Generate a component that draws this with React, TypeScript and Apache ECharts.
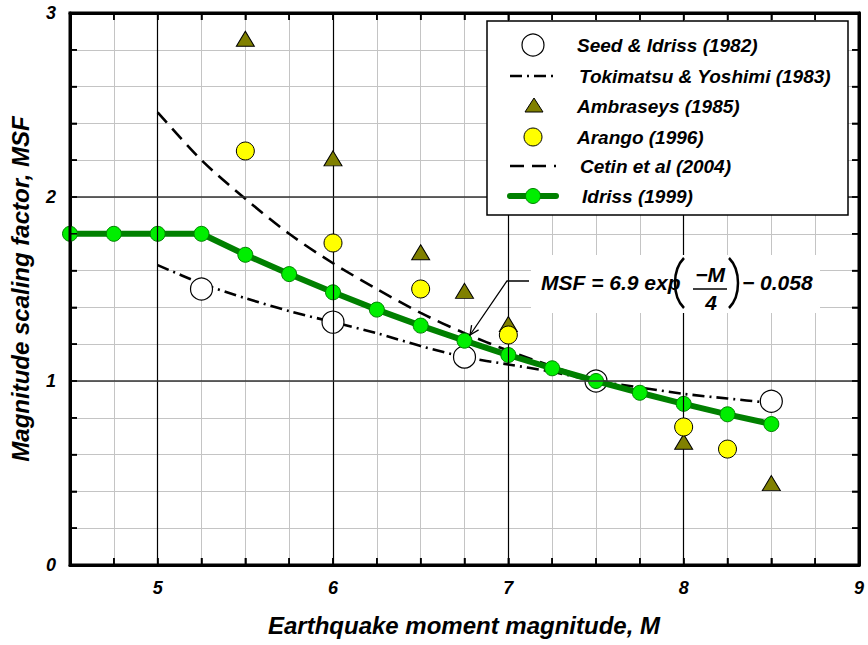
import React, { useEffect, useRef } from "react";
import * as echarts from "echarts";

// ---- data ----
const idrissM = [4.5, 4.75, 5, 5.25, 5.5, 5.75, 6, 6.25, 6.5, 6.75, 7, 7.25, 7.5, 7.75, 8, 8.25, 8.5];
const idrissMSF = [1.8, 1.8, 1.8, 1.8, 1.686, 1.581, 1.482, 1.388, 1.301, 1.219, 1.141, 1.069, 1.0, 0.936, 0.876, 0.819, 0.766];

const seedM = [5.25, 6, 6.75, 7.5, 8.5];
const seedMSF = [1.5, 1.32, 1.13, 1.0, 0.89];

const tokiM = [5, 5.25, 5.5, 5.75, 6, 6.25, 6.5, 6.75, 7, 7.25, 7.5, 7.75, 8, 8.25, 8.5];
const tokiMSF = [1.63, 1.53, 1.45, 1.38, 1.32, 1.26, 1.19, 1.13, 1.09, 1.05, 1.0, 0.965, 0.93, 0.905, 0.88];

const ambM = [5.5, 6, 6.5, 6.75, 7, 8, 8.5];
const ambMSF = [2.86, 2.21, 1.7, 1.49, 1.31, 0.67, 0.445];

const arangoM = [5.5, 6, 6.5, 7, 8, 8.25];
const arangoMSF = [2.25, 1.75, 1.5, 1.25, 0.75, 0.63];

const cetinM = [5, 5.25, 5.5, 5.75, 6, 6.25, 6.5, 6.75, 7, 7.25, 7.5];
const cetinMSF = [2.46, 2.2, 1.99, 1.8, 1.64, 1.5, 1.37, 1.26, 1.165, 1.08, 1.0];

// ---- axes / ticks ----
const xRange = [4.5, 9];
const yRange = [0, 3];
const xTickLabels = [5, 6, 7, 8, 9];
const yTickLabels = [0, 1, 2, 3];
const xMinorTicks = [4.75, 5, 5.25, 5.5, 5.75, 6, 6.25, 6.5, 6.75, 7, 7.25, 7.5, 7.75, 8, 8.25, 8.5, 8.75];
const yMinorTicks = [0.2, 0.4, 0.6, 0.8, 1, 1.2, 1.4, 1.6, 1.8, 2, 2.2, 2.4, 2.6, 2.8];
const majorX = [5, 6, 7, 8];
const majorY = [1, 2];

const legendNames = [
  "Seed & Idriss (1982)",
  "Tokimatsu & Yoshimi (1983)",
  "Ambraseys (1985)",
  "Arango (1996)",
  "Cetin et al (2004)",
  "Idriss (1999)",
];

const xTitle = "Earthquake moment magnitude, M";
const yTitle = "Magnitude scaling factor, MSF";

const FONT = '"Liberation Sans", Arial, sans-serif';

const zip = (a: number[], b: number[]) => a.map((v, i) => [v, b[i]]);

function makeAxis(kind: "x" | "y", position: string, main: boolean) {
  const isX = kind === "x";
  return {
    type: "value",
    min: isX ? xRange[0] : yRange[0],
    max: isX ? xRange[1] : yRange[1],
    interval: isX ? 0.25 : 0.2,
    position,
    axisLine: { show: true, onZero: false, lineStyle: { color: "#000", width: 3 } },
    axisTick: { show: true, inside: true, length: 7, lineStyle: { color: "#000", width: 1.5 } },
    axisLabel: main
      ? {
          show: true,
          customValues: isX ? xTickLabels : yTickLabels,
          fontFamily: FONT,
          fontWeight: "bold",
          fontStyle: "italic",
          fontSize: 18,
          color: "#000",
          margin: 14,
        }
      : { show: false },
    splitLine: main
      ? { show: true, lineStyle: { color: "#c4c4c4", width: 1 } }
      : { show: false },
  };
}

export default function App() {
  const ref = useRef<HTMLDivElement>(null);

  useEffect(() => {
    if (!ref.current) return;
    const chart = echarts.init(ref.current, undefined, { renderer: "svg" });

    const txt = (text: string, x: number, y: number, size: number, extra: any = {}) => ({
      type: "text",
      x,
      y,
      z: 100,
      silent: true,
      ...extra,
      style: {
        text,
        fill: "#000",
        fontFamily: FONT,
        fontWeight: "bold",
        fontStyle: "italic",
        fontSize: size,
        align: "left",
        verticalAlign: "middle",
        ...(extra.style || {}),
      },
    });

    const legendTextX = [577, 579, 577, 577, 580, 582];
    const legendRowY = [45, 76, 106, 137, 166, 196];

    const graphic: any[] = [
      // legend box
      {
        type: "rect",
        z: 99,
        shape: { x: 487, y: 21, width: 361, height: 194 },
        style: { fill: "#fff", stroke: "#000", lineWidth: 1.5 },
      },
      { type: "circle", z: 100, shape: { cx: 533, cy: legendRowY[0], r: 11 }, style: { fill: "#fff", stroke: "#000", lineWidth: 1.2 } },
      { type: "line", z: 100, shape: { x1: 510, y1: legendRowY[1], x2: 556, y2: legendRowY[1] }, style: { stroke: "#000", lineWidth: 2.6, lineDash: [12, 5, 2, 5] } },
      { type: "polygon", z: 100, shape: { points: [[534, 98], [543, 112], [525, 112]] }, style: { fill: "#808000", stroke: "#000", lineWidth: 1 } },
      { type: "circle", z: 100, shape: { cx: 533, cy: legendRowY[3], r: 9 }, style: { fill: "#ffff00", stroke: "#000", lineWidth: 1 } },
      { type: "line", z: 100, shape: { x1: 510, y1: legendRowY[4], x2: 556, y2: legendRowY[4] }, style: { stroke: "#000", lineWidth: 2.6, lineDash: [14, 8] } },
      { type: "line", z: 100, shape: { x1: 510, y1: legendRowY[5], x2: 556, y2: legendRowY[5] }, style: { stroke: "#008000", lineWidth: 6, lineCap: "round" } },
      { type: "circle", z: 101, shape: { cx: 533, cy: legendRowY[5], r: 7.5 }, style: { fill: "#00ee00", stroke: "#008000", lineWidth: 1 } },
      ...legendNames.map((n, i) => txt(n, legendTextX[i], legendRowY[i], 19)),

      // equation annotation
      {
        type: "rect",
        z: 98,
        shape: { x: 531, y: 255, width: 289, height: 58 },
        style: { fill: "#fff" },
      },
      {
        type: "polyline",
        z: 100,
        shape: { points: [[529, 281], [507, 281], [470, 335]] },
        style: { stroke: "#000", lineWidth: 1.3, fill: null },
      },
      {
        type: "polyline",
        z: 100,
        shape: { points: [[478.6, 329.9], [470, 335], [471.6, 325.1]] },
        style: { stroke: "#000", lineWidth: 1.3, fill: null },
      },
      txt("MSF = 6.9 exp", 541, 282, 21),
      {
        type: "bezierCurve",
        z: 100,
        shape: { x1: 684, y1: 258, cpx1: 672, cpy1: 270, cpx2: 672, cpy2: 296, x2: 684, y2: 308 },
        style: { stroke: "#000", lineWidth: 2.5, fill: null },
      },
      {
        type: "bezierCurve",
        z: 100,
        shape: { x1: 729, y1: 258, cpx1: 741, cpy1: 270, cpx2: 741, cpy2: 296, x2: 729, y2: 308 },
        style: { stroke: "#000", lineWidth: 2.5, fill: null },
      },
      txt("\u2212M", 710, 274, 21, { style: { align: "center" } }),
      { type: "line", z: 100, shape: { x1: 693, y1: 289, x2: 727, y2: 289 }, style: { stroke: "#000", lineWidth: 1.5 } },
      txt("4", 711, 302, 21, { style: { align: "center" } }),
      txt("\u2212 0.058", 742, 282, 21),

      // axis titles
      txt(xTitle, 464, 625, 24, { style: { align: "center" } }),
      txt(yTitle, 20, 289, 24, { rotation: Math.PI / 2, style: { align: "center" } }),
    ];

    const option: any = {
      animation: false,
      backgroundColor: "#fff",
      grid: { left: 70, right: 9, top: 13, bottom: 80 },
      xAxis: [makeAxis("x", "bottom", true), makeAxis("x", "top", false)],
      yAxis: [makeAxis("y", "left", true), makeAxis("y", "right", false)],
      series: [
        {
          name: "major",
          type: "line",
          data: [],
          z: 1,
          silent: true,
          markLine: {
            silent: true,
            symbol: "none",
            label: { show: false },
            animation: false,
            data: [
              ...majorX.map((v) => ({ xAxis: v, lineStyle: { color: "#000", width: 1.2, type: "solid" } })),
              ...majorY.map((v) => ({ yAxis: v, lineStyle: { color: "#333", width: 1.5, type: "solid" } })),
            ],
          },
        },
        {
          name: legendNames[1],
          type: "line",
          z: 2,
          data: zip(tokiM, tokiMSF),
          symbol: "none",
          smooth: 0.3,
          lineStyle: { color: "#000", width: 2.6, type: [12, 5, 2, 5] },
        },
        {
          name: legendNames[4],
          type: "line",
          z: 2,
          data: zip(cetinM, cetinMSF),
          symbol: "none",
          smooth: 0.3,
          lineStyle: { color: "#000", width: 2.6, type: [14, 8] },
        },
        {
          name: legendNames[0],
          type: "scatter",
          z: 3,
          data: zip(seedM, seedMSF),
          symbol: "circle",
          symbolSize: 22,
          itemStyle: { color: "#fff", borderColor: "#000", borderWidth: 1.2, opacity: 1 },
        },
        {
          name: legendNames[5],
          type: "line",
          z: 4,
          data: zip(idrissM, idrissMSF),
          symbol: "circle",
          symbolSize: 15,
          showAllSymbol: true,
          lineStyle: { color: "#008000", width: 6 },
          itemStyle: { color: "#00ee00", borderColor: "#008000", borderWidth: 1 },
        },
        {
          name: legendNames[2],
          type: "scatter",
          z: 5,
          data: zip(ambM, ambMSF),
          symbol: "triangle",
          symbolSize: [18, 15],
          itemStyle: { color: "#808000", borderColor: "#000", borderWidth: 1, opacity: 1 },
        },
        {
          name: legendNames[3],
          type: "scatter",
          z: 6,
          data: zip(arangoM, arangoMSF),
          symbol: "circle",
          symbolSize: 18,
          itemStyle: { color: "#ffff00", borderColor: "#000", borderWidth: 1, opacity: 1 },
        },
      ],
      graphic,
    };

    chart.setOption(option);

    // frame and inward ticks, positioned through the chart's own axis scales
    const px = (x: number, y: number) =>
      chart.convertToPixel({ gridIndex: 0 } as any, [x, y]) as number[];
    const p0 = px(xRange[0], yRange[0]);
    const p1 = px(xRange[1], yRange[1]);
    const left = p0[0], bottom = p0[1], right = p1[0], top = p1[1];
    const L = 7;
    const tickStyle = { stroke: "#000", lineWidth: 1.5 };
    const frame: any[] = [];
    xMinorTicks.forEach((v) => {
      const x = px(v, yRange[0])[0];
      frame.push({ type: "line", z: 60, silent: true, shape: { x1: x, y1: bottom, x2: x, y2: bottom - L }, style: tickStyle });
      frame.push({ type: "line", z: 60, silent: true, shape: { x1: x, y1: top, x2: x, y2: top + L }, style: tickStyle });
    });
    yMinorTicks.forEach((v) => {
      const y = px(xRange[0], v)[1];
      frame.push({ type: "line", z: 60, silent: true, shape: { x1: left, y1: y, x2: left + L, y2: y }, style: tickStyle });
      frame.push({ type: "line", z: 60, silent: true, shape: { x1: right, y1: y, x2: right - L, y2: y }, style: tickStyle });
    });
    frame.push({
      type: "rect",
      z: 61,
      silent: true,
      shape: { x: left, y: top, width: right - left, height: bottom - top },
      style: { fill: null, stroke: "#000", lineWidth: 3 },
    });

    chart.setOption({ graphic: [...graphic, ...frame] });

    return () => chart.dispose();
  }, []);

  return (
    <div
      ref={ref}
      style={{ position: "fixed", left: 0, top: 0, width: 868, height: 645 }}
    />
  );
}
